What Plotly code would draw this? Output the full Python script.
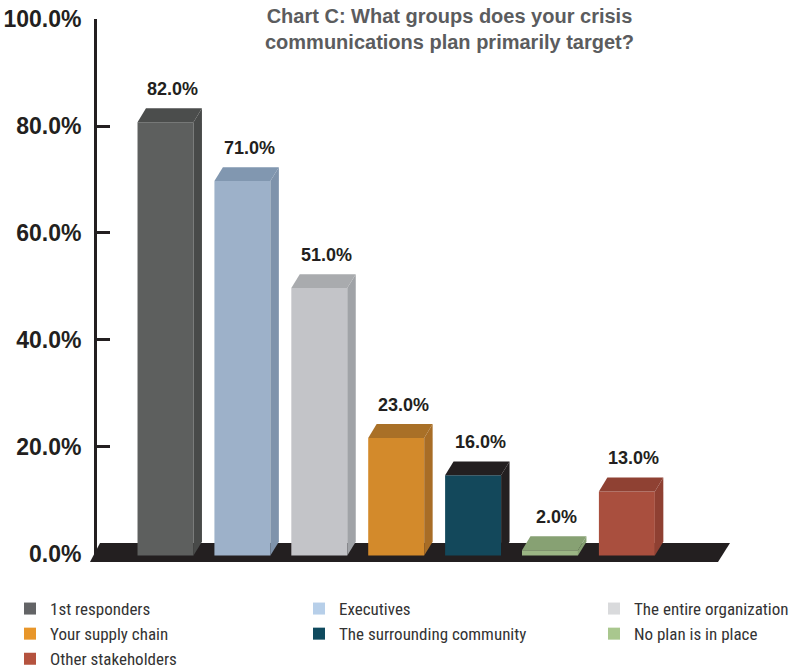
import plotly.graph_objects as go

# ---- data ----
categories = ["1st responders", "Executives", "The entire organization",
              "Your supply chain", "The surrounding community",
              "No plan is in place", "Other stakeholders"]
values = [82.0, 71.0, 51.0, 23.0, 16.0, 2.0, 13.0]
front_colors = ["#5d5f5e", "#9db1c9", "#c3c4c8", "#d38a2b", "#13485b", "#9bb584", "#a94f3e"]
side_colors = ["#484a49", "#7f93ab", "#a0a3a7", "#a86d26", "#231f20", "#86a072", "#8f4032"]
top_colors = ["#4b4d4c", "#8197b0", "#a9abae", "#a97027", "#231f20", "#87a173", "#8f4133"]
legend_colors = ["#636466", "#b7cfe9", "#d9dadc", "#e8962a", "#0f4a5e", "#a9c78e", "#b5533f"]
legend_ids = ["legend", "legend2", "legend3", "legend", "legend2", "legend3", "legend"]
tick_vals = [0, 20, 40, 60, 80, 100]
tick_text = ["0.0%", "20.0%", "40.0%", "60.0%", "80.0%", "100.0%"]
title_text = "Chart C: What groups does your crisis<br>communications plan primarily target?"

# ---- 3D look parameters (style) ----
W = 0.728      # front face width (x units)
DX = 0.11      # depth offset in x units
HALF_DY = 1.3  # half of the depth offset in y units (value sits mid-depth)
BASE = -0.3
INK = "#231f20"

# plot-area geometry (pixels)
PL, PW, PT, PH = 97, 648, 19, 543
def px(xp):
    return (xp - PL) / PW
def py(yp):
    return (PT + PH - yp) / PH

fig = go.Figure()

for i, (cat, v) in enumerate(zip(categories, values)):
    xl, xr = i - W / 2, i + W / 2
    front_top, back_top = v - HALF_DY, v + HALF_DY
    # front face
    fig.add_trace(go.Bar(
        x=[i], y=[front_top - BASE], base=[BASE], width=W,
        marker=dict(color=front_colors[i], line=dict(width=0)),
        name=cat, showlegend=False, hoverinfo="skip"))
    # side face
    fig.add_trace(go.Scatter(
        x=[xr, xr + DX, xr + DX, xr, xr],
        y=[BASE, BASE + 2 * HALF_DY, back_top, front_top, BASE],
        fill="toself", fillcolor=side_colors[i], mode="lines",
        line=dict(width=0, color=side_colors[i]),
        showlegend=False, hoverinfo="skip"))
    # top face
    fig.add_trace(go.Scatter(
        x=[xl, xl + DX, xr + DX, xr, xl],
        y=[front_top, back_top, back_top, front_top, front_top],
        fill="toself", fillcolor=top_colors[i], mode="lines",
        line=dict(width=0, color=top_colors[i]),
        showlegend=False, hoverinfo="skip"))
    # value label
    fig.add_annotation(
        x=i + 0.09, y=back_top, yanchor="bottom", yshift=7, showarrow=False,
        text=f"{v:.1f}%",
        font=dict(family="Liberation Sans, Arial, sans-serif", size=18,
                  color=INK, weight="bold"))

# legend entries
for i, cat in enumerate(categories):
    fig.add_trace(go.Bar(
        x=[None], y=[None], name=cat, legend=legend_ids[i],
        legendgroup=cat, marker=dict(color=legend_colors[i], line=dict(width=0)),
        showlegend=True, hoverinfo="skip"))

# floor (decorative), in paper coordinates so it may pass the axis
floor = [(100, 543), (730, 543), (718, 562), (90, 562)]
path = "M " + " L ".join(f"{px(a):.5f},{py(b):.5f}" for a, b in floor) + " Z"
fig.add_shape(type="path", layer="below", xref="paper", yref="paper",
              path=path, fillcolor=INK, line=dict(width=0))

# title
fig.add_annotation(
    xref="paper", yref="paper", x=px(449), y=py(3), xanchor="center", yanchor="top",
    showarrow=False, text=title_text, align="center",
    font=dict(family="Liberation Sans, Arial, sans-serif", size=20,
              color="#5b5c5e", weight="bold"))

legend_style = dict(orientation="v", xref="paper", yref="paper",
                    xanchor="left", yanchor="top",
                    bgcolor="rgba(0,0,0,0)", tracegroupgap=0,
                    font=dict(family="Liberation Sans Narrow, Roboto Condensed, Roboto, sans-serif",
                              size=17, color="#333333"))

fig.update_layout(
    width=796, height=669, autosize=False,
    margin=dict(l=PL, r=796 - PL - PW, t=PT, b=669 - PT - PH, autoexpand=False),
    paper_bgcolor="white", plot_bgcolor="white",
    showlegend=True,
    barmode="overlay",
    xaxis=dict(range=[-0.891, 7.536], visible=False, showgrid=False, zeroline=False),
    yaxis=dict(range=[-1.5, 100],
               showline=True, linewidth=3, linecolor=INK,
               ticks="inside", ticklen=13, tickwidth=3, tickcolor=INK,
               tickvals=tick_vals, ticktext=tick_text, ticklabelstandoff=8,
               tickfont=dict(family="Liberation Sans, Arial, sans-serif", size=23,
                             color=INK, weight="bold"),
               showgrid=False, zeroline=False),
    legend=dict(legend_style, x=px(10), y=py(591)),
    legend2=dict(legend_style, x=px(299), y=py(591)),
    legend3=dict(legend_style, x=px(594), y=py(591)),
)

fig.write_html("out.html")
